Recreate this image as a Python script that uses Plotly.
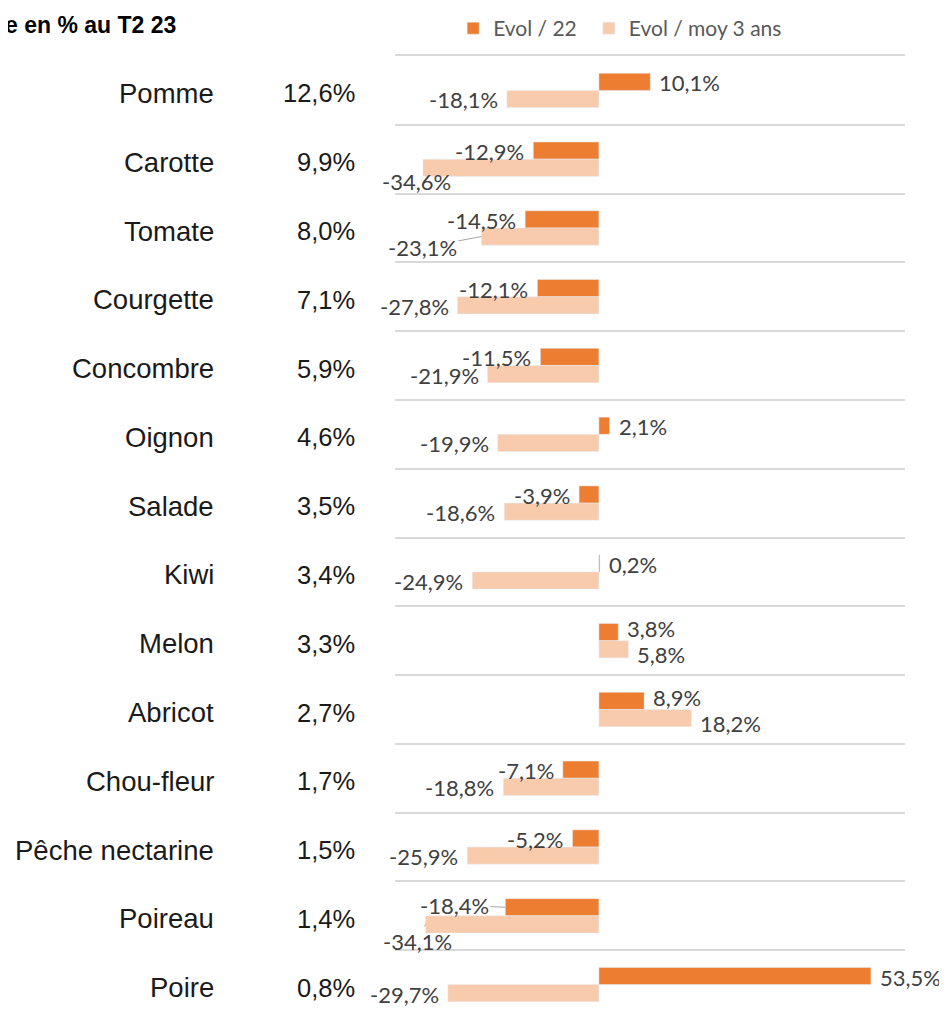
import plotly.graph_objects as go

# Data
categories = ["Pomme", "Carotte", "Tomate", "Courgette", "Concombre", "Oignon", "Salade",
              "Kiwi", "Melon", "Abricot", "Chou-fleur", "Pêche nectarine", "Poireau", "Poire"]
share_t2_23 = [12.6, 9.9, 8.0, 7.1, 5.9, 4.6, 3.5, 3.4, 3.3, 2.7, 1.7, 1.5, 1.4, 0.8]
evol_22 = [10.1, -12.9, -14.5, -12.1, -11.5, 2.1, -3.9, 0.2, 3.8, 8.9, -7.1, -5.2, -18.4, 53.5]
evol_moy3 = [-18.1, -34.6, -23.1, -27.8, -21.9, -19.9, -18.6, -24.9, 5.8, 18.2, -18.8, -25.9, -34.1, -29.7]

DARK = "#ED7D31"
LIGHT = "#F8CBAD"
GRID = "#D9D9D9"
LABEL_FONT = "Lato"
CAT_FONT = "Liberation Sans"

# label nudges (px) where Excel moved the data label, with optional leader line
nudges = {
    ("light", "Carotte"): (37, 13, False),
    ("light", "Tomate"): (-17, 9, True),
    ("light", "Poireau"): (34, 15, True),
    ("dark", "Poireau"): (-9, -4, True),
}


def fmt(v):
    return f"{v:.1f}%".replace(".", ",")


rows = list(range(len(categories)))
bar_w = 0.25

fig = go.Figure()
fig.add_trace(go.Bar(
    y=rows, x=evol_22, orientation="h", name="Evol / 22",
    marker=dict(color=DARK), width=bar_w, offset=-bar_w, hoverinfo="x",
    legend="legend",
))
fig.add_trace(go.Bar(
    y=rows, x=evol_moy3, orientation="h", name="Evol / moy 3 ans",
    marker=dict(color=LIGHT), width=bar_w, offset=0, hoverinfo="x",
    legend="legend2",
))

annotations = []

# data labels
for key, series, dy in (("dark", evol_22, -bar_w / 2), ("light", evol_moy3, bar_w / 2)):
    for i, (cat, v) in enumerate(zip(categories, series)):
        sign = 1 if v >= 0 else -1
        dx, ddy, leader = nudges.get((key, cat), (0, 0, False))
        # both labels on the right side -> spread them a little
        if evol_22[i] >= 0 and evol_moy3[i] >= 0:
            ddy += -4.5 if key == "dark" else 4.5
        base = dict(x=v, y=i + dy, xref="x", yref="y", text=fmt(v),
                    font=dict(family=LABEL_FONT, size=22, color="#404040"))
        if leader:
            annotations.append(dict(base, showarrow=True, arrowhead=0, arrowwidth=1,
                                    arrowcolor="#A6A6A6", standoff=0, startstandoff=0,
                                    ax=sign * 42 + dx, ay=2 + ddy))
        else:
            annotations.append(dict(base, showarrow=False,
                                    xanchor="left" if sign > 0 else "right",
                                    xshift=sign * 7 + dx, yshift=-1 - ddy))

# category names and share column
for i, (cat, s) in enumerate(zip(categories, share_t2_23)):
    annotations.append(dict(x=-0.351, y=i + 0.045, xref="paper", yref="y", text=cat,
                            showarrow=False, xanchor="right",
                            font=dict(family=CAT_FONT, size=27.5, color="#1A1A1A")))
    annotations.append(dict(x=-0.0745, y=i + 0.045, xref="paper", yref="y", text=fmt(s),
                            showarrow=False, xanchor="right",
                            font=dict(family=CAT_FONT, size=25.5, color="#1A1A1A")))

# title (cut at the left edge in the source)
annotations.append(dict(x=-0.4255, y=1.032, xref="paper", yref="paper",
                        text="<b>e en % au T2 23</b>", showarrow=False,
                        xanchor="right", yanchor="middle",
                        font=dict(family=CAT_FONT, size=23, color="#000000")))

legend_font = dict(family=LABEL_FONT, size=21, color="#595959")

# page body adds an 8px margin, so the figure is 8px smaller than the window
fig.update_layout(
    width=939, height=1011,
    margin=dict(l=387, r=42, t=44, b=0),
    paper_bgcolor="white", plot_bgcolor="white",
    barmode="overlay",
    showlegend=True,
    legend=dict(orientation="h", x=0.114, xanchor="left", y=1.029, yanchor="middle",
                font=legend_font, bgcolor="rgba(0,0,0,0)"),
    legend2=dict(orientation="h", x=0.380, xanchor="left", y=1.029, yanchor="middle",
                 font=legend_font, bgcolor="rgba(0,0,0,0)"),
    xaxis=dict(range=[-40.1, 60.2], side="top", showline=True, linecolor=GRID,
               linewidth=2, showgrid=False, zeroline=False,
               showticklabels=False, ticks="", fixedrange=True),
    yaxis=dict(range=[len(categories) - 0.5, -0.5], tickmode="array",
               tickvals=[i - 0.5 for i in range(len(categories) + 1)],
               showgrid=True, gridcolor=GRID, gridwidth=2,
               zeroline=False, showticklabels=False, ticks="", fixedrange=True),
    annotations=annotations,
)

fig.write_html("out.html")
